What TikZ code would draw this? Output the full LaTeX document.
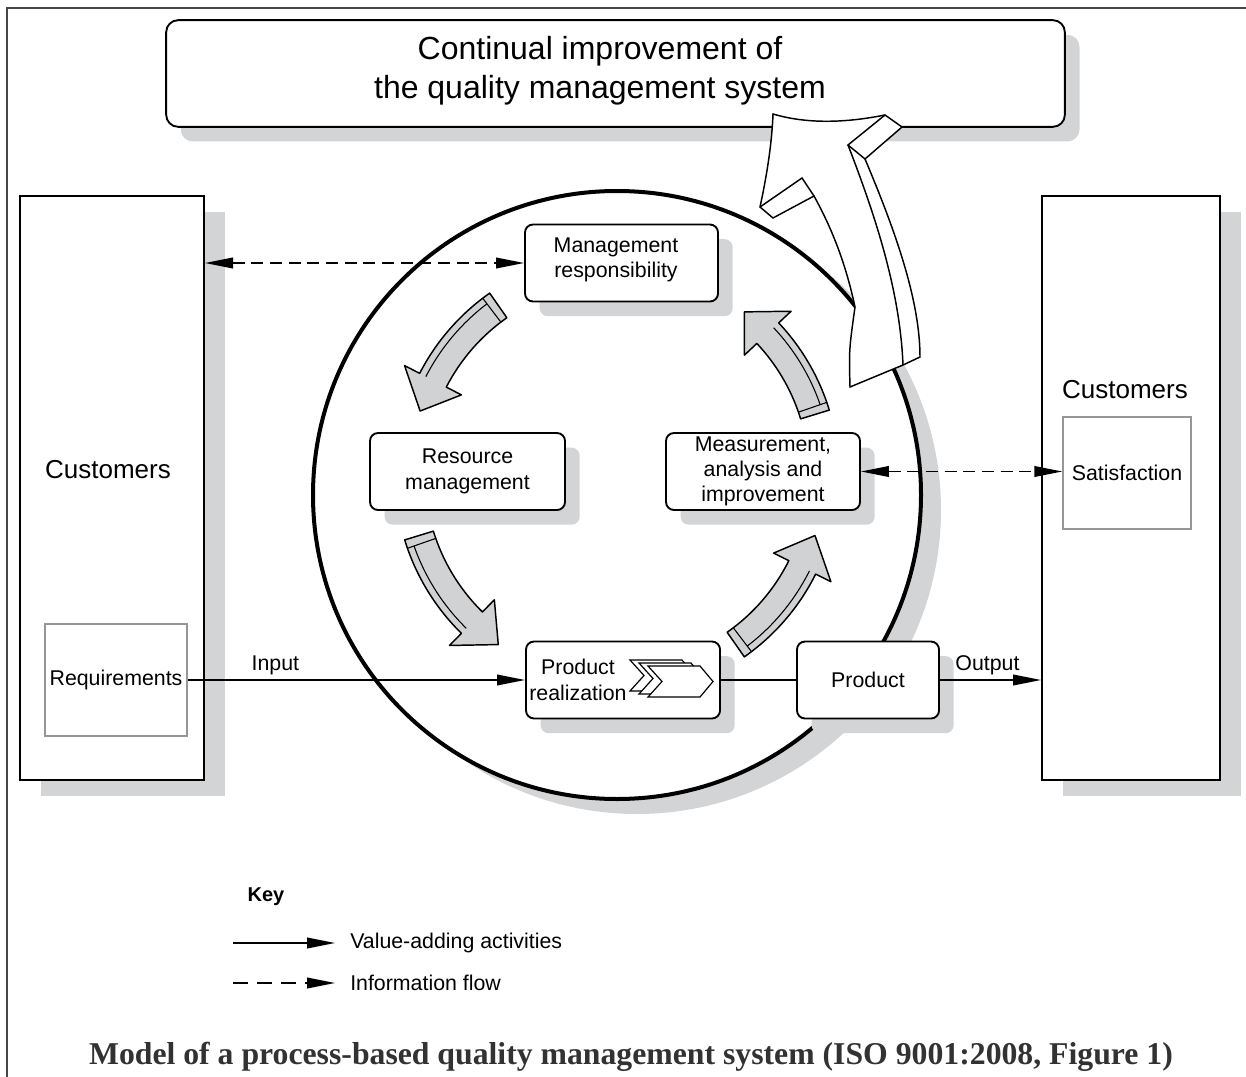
\documentclass[tikz,border=0pt]{standalone}
\usepackage{fontspec}
\setmainfont{Liberation Sans}
\newfontfamily\capfont{Liberation Serif}
\usetikzlibrary{arrows.meta,shadows}

\definecolor{shadowgray}{RGB}{211,212,214}
\definecolor{arrowgray}{RGB}{209,210,212}
\definecolor{thingray}{RGB}{150,150,150}
\definecolor{framegray}{RGB}{70,70,70}
\definecolor{capgray}{RGB}{50,50,50}

% curved grey arrow of the cycle: tail angle, tip angle
\newcommand\cyclearrow[2]{%
	\pgfmathsetmacro\hb{#2+(#1-#2)*0.25}
	\pgfmathsetmacro\tc{#1+(#2-#1)*0.06}
	\filldraw[fill=arrowgray, line width=1.1pt, line join=round]
		(#1:192) arc[start angle=#1, end angle=\hb, radius=192]
		-- (\hb:175) -- (#2:207) -- (\hb:239) -- (\hb:222)
		arc[start angle=\hb, end angle=#1, radius=222] -- cycle;
	\draw[line width=0.8pt] (\tc:192) -- (\tc:222);
	\draw[line width=0.8pt] (\tc:215) arc[start angle=\tc, end angle=\hb, radius=215];
}

\begin{document}
\begin{tikzpicture}[x=0.75pt,y=-0.75pt,
	box/.style={draw, line width=1.4pt, rounded corners=6pt, fill=white, inner sep=0pt,
		minimum height=57.75pt, align=center, font=\fontsize{16}{19}\selectfont,
		drop shadow={shadow xshift=11pt, shadow yshift=-11pt, fill=shadowgray, opacity=1}},
	custbox/.style={draw, line width=1.5pt, fill=white, inner sep=0pt, minimum height=438pt,
		drop shadow={shadow xshift=16pt, shadow yshift=-12pt, fill=shadowgray, opacity=1}},
	greybox/.style={draw=thingray, line width=1pt, fill=white, inner sep=0pt,
		minimum height=84pt, font=\fontsize{16}{19}\selectfont},
	bigtext/.style={font=\fontsize{19.5}{23}\selectfont},
	flow/.style={line width=1.2pt, -{Triangle[length=21pt,width=8pt]}},
	info/.style={line width=1.2pt, dash pattern=on 9pt off 5pt,
		{Triangle[length=21pt,width=8pt]}-{Triangle[length=21pt,width=8pt]}},
	lbl/.style={font=\fontsize{16}{19}\selectfont}
]
	\useasboundingbox (0,0) rectangle (1246,1077);

	% frame
	\draw[framegray, line width=2.2pt] (7,1077) -- (7,8) -- (1246,8);

	% circle with shadow
	\fill[shadowgray] (637,510) circle[radius=304];
	\draw[line width=3pt, fill=white] (617,495) circle[radius=304];

	% boxes
	\node[box, rounded corners=9pt, minimum width=674pt, minimum height=80pt] (cip) at (615.5,73.5) {};
	\node[align=center, font=\fontsize{24}{29}\selectfont] (ciptext) at (600,71)
		{Continual improvement of\\the quality management system};

	\node[custbox, minimum width=138pt] (custL) at (112,488) {};
	\node[custbox, minimum width=133.5pt] (custR) at (1131,488) {};
	\node[bigtext] (custLt) at (108,470) {Customers};
	\node[bigtext] (custRt) at (1125,390) {Customers};
	\node[greybox, minimum width=106.5pt] (req) at (116,680) {Requirements};
	\node[greybox, minimum width=96pt] (sat) at (1127,473) {Satisfaction};

	\node[box, minimum width=144.75pt] (mgmt) at (621.5,263) {};
	\node[lbl, align=center] (mgmtt) at (616,260) {Management\\responsibility};
	\node[box, minimum width=146.25pt] (res) at (467.5,471.5) {Resource\\management};
	\node[box, minimum width=145.5pt] (meas) at (763,471.5) {Measurement,\\analysis and\\improvement};
	\node[box, minimum width=145.5pt] (prodreal) at (623,680) {};
	\node[lbl, align=center] (prodrealt) at (578,680) {Product\\realization};
	\node[box, minimum width=106.5pt] (product) at (868,680) {Product};

	% chevrons in product realization
	\begin{scope}[shift={(prodreal.center)}]
		\foreach \dx/\dy in {-18/-6,-9/-3,0/0}
			\filldraw[fill=white, line width=0.9pt, line join=miter]
				(25+\dx,-14+\dy) -- (77+\dx,-14+\dy) -- (90+\dx,1.5+\dy) -- (77+\dx,17+\dy)
				-- (25+\dx,17+\dy) -- (39+\dx,1.5+\dy) -- cycle;
	\end{scope}

	% cycle arrows
	\begin{scope}[shift={(617,475)}]
		\cyclearrow{-125}{-162}
		\cyclearrow{-197}{-235}
		\cyclearrow{-305}{-343}
		\cyclearrow{-17}{-52}
	\end{scope}

	% connectors
	\draw[flow] (req.east) to node[lbl, above, pos=0.26] {Input} (prodreal.west);
	\draw[line width=1.2pt] (prodreal.east) -- (product.west);
	\draw[flow] (product.east) to node[lbl, above, pos=0.47] {Output} (custR.west |- product.east);
	\draw[info] (custL.east |- mgmt.west) -- (mgmt.west);
	\draw[info] (meas.east) -- (sat.west |- meas.east);

	% big improvement arrow
	\filldraw[fill=white, line width=1.1pt, line join=miter]
		(773,114) .. controls (810,125) and (850,122) .. (885,115)
		-- (902,127) -- (865,159)
		.. controls (895,230) and (920,300) .. (920,357)
		-- (903,365) -- (850,387)
		.. controls (849,350) .. (855,307)
		.. controls (845,260) and (830,225) .. (814,196)
		-- (773,218) -- (760,207)
		.. controls (768,170) and (772,140) .. (773,114) -- cycle;
	\draw[line width=1.1pt, line join=miter] (760,207) -- (802,178) -- (814,196);
	\draw[line width=1.1pt, line join=miter] (885,115) -- (848,145) -- (865,159);
	\draw[line width=1.1pt] (848,145) .. controls (875,215) and (900,290) .. (903,365);

	% key
	\node[font=\fontsize{15}{18}\selectfont\bfseries] (key) at (266,897) {Key};
	\coordinate (k1a) at (233,943);
	\coordinate (k1b) at (335,943);
	\coordinate (k2a) at (233,983);
	\coordinate (k2b) at (335,983);
	\draw[flow] (k1a) -- (k1b);
	\draw[line width=1.2pt, dash pattern=on 11pt off 7pt, -{Triangle[length=21pt,width=8pt]}] (k2a) -- (k2b);
	\node[lbl, anchor=west, inner sep=0pt] (k1t) at (350,943) {Value-adding activities};
	\node[lbl, anchor=west, inner sep=0pt] (k2t) at (350,983) {Information flow};

	% caption
	\node[capgray, font=\capfont\fontsize{23.8}{28}\selectfont\bfseries] (cap) at (631,1057)
		{Model of a process-based quality management system (ISO 9001:2008, Figure 1)};
\end{tikzpicture}
\end{document}
